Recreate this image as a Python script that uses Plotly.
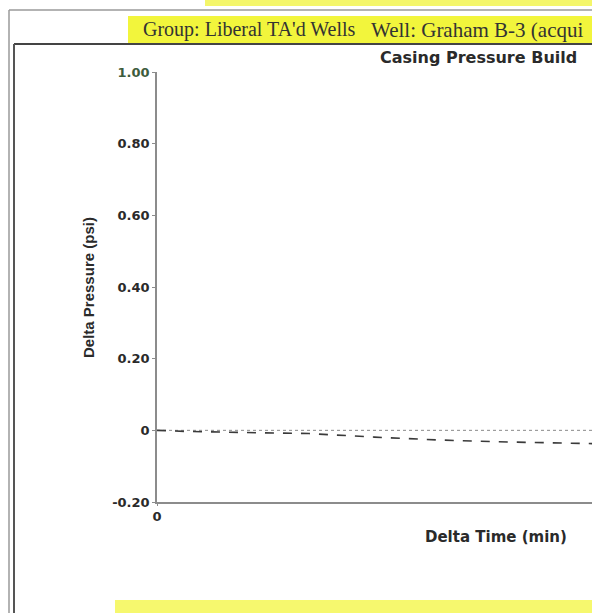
import plotly.graph_objects as go

# ---- data ----
delta_time_min = [0, 4, 12, 21, 30, 39, 47, 56, 60]
delta_pressure_psi = [0.0, -0.003, -0.006, -0.009, -0.019, -0.027, -0.032, -0.036, -0.037]
ref_time = [0, 60]
ref_pressure = [0.0, 0.0]

y_tickvals = [-0.2, 0.0, 0.2, 0.4, 0.6, 0.8, 1.0]
y_ticktext = ["-0.20", "0", "0.20", "0.40", "0.60", "0.80", "<span style='color:#3d5c3d'>1.00</span>"]
x_tickvals = [0]
x_ticktext = ["0"]

header_group = "Group: Liberal TA'd Wells"
header_well = "Well: Graham B-3 (acqui"
chart_title = "Casing Pressure Build"
x_title = "Delta Time (min)"
y_title = "Delta Pressure (psi)"

# ---- layout geometry ----
W, H = 592, 613
L, R, T, B = 157, 0, 72, 111
PW, PH = W - L - R, H - T - B

def px(x):
    return (x - L) / PW

def py(y):
    return (H - B - y) / PH

fig = go.Figure()

fig.add_trace(go.Scatter(
    x=ref_time, y=ref_pressure, mode="lines",
    line=dict(color="#8a8a8a", width=1, dash="dot"),
    showlegend=False, hoverinfo="skip"))

fig.add_trace(go.Scatter(
    x=delta_time_min, y=delta_pressure_psi, mode="lines",
    line=dict(color="#3a3a3a", width=1.6, dash="dash"),
    showlegend=False))

tick_font = dict(family="DejaVu Sans", size=13, color="#2a2a2a", weight="bold")

fig.update_layout(
    width=W, height=H,
    margin=dict(l=L, r=R, t=T, b=B),
    paper_bgcolor="white", plot_bgcolor="white",
    xaxis=dict(range=[0, 60], tickvals=x_tickvals, ticktext=x_ticktext,
               showgrid=False, zeroline=False, showline=True,
               linecolor="#8c8c8c", linewidth=1.5, ticks="outside",
               ticklen=2, tickcolor="#8c8c8c", tickfont=tick_font),
    yaxis=dict(range=[-0.2, 1.0], tickvals=y_tickvals, ticktext=y_ticktext,
               showgrid=False, zeroline=False, showline=True,
               linecolor="#8c8c8c", linewidth=1.5, ticks="outside",
               ticklen=3, tickcolor="#8c8c8c", tickfont=tick_font),
)

shapes = []
# yellow highlighter marks
shapes.append(dict(type="rect", xref="paper", yref="paper",
                   x0=px(128), x1=px(592), y0=py(44), y1=py(16),
                   fillcolor="#f2f53c", line=dict(width=0), layer="below"))
shapes.append(dict(type="rect", xref="paper", yref="paper",
                   x0=px(205), x1=px(592), y0=py(6), y1=py(0),
                   fillcolor="#f4f66a", line=dict(width=0), layer="below"))
shapes.append(dict(type="rect", xref="paper", yref="paper",
                   x0=px(115), x1=px(592), y0=py(613), y1=py(600),
                   fillcolor="#f6f86e", line=dict(width=0), layer="below"))
# frame lines
shapes.append(dict(type="line", xref="paper", yref="paper",
                   x0=px(9), x1=px(592), y0=py(10), y1=py(10),
                   line=dict(color="#9a9a9a", width=1.5)))
shapes.append(dict(type="line", xref="paper", yref="paper",
                   x0=px(9), x1=px(9), y0=py(10), y1=py(613),
                   line=dict(color="#9a9a9a", width=1.5)))
shapes.append(dict(type="line", xref="paper", yref="paper",
                   x0=px(14), x1=px(592), y0=py(44), y1=py(44),
                   line=dict(color="#444444", width=2)))
shapes.append(dict(type="line", xref="paper", yref="paper",
                   x0=px(14), x1=px(14), y0=py(44), y1=py(613),
                   line=dict(color="#555555", width=2)))
fig.update_layout(shapes=shapes)

ann = []
ann.append(dict(text=header_group, xref="paper", yref="paper",
                x=px(141), y=py(30), xanchor="left", yanchor="middle",
                showarrow=False,
                font=dict(family="Liberation Serif", size=20, color="#333333")))
ann.append(dict(text=header_well, xref="paper", yref="paper",
                x=px(369), y=py(30), xanchor="left", yanchor="middle",
                showarrow=False,
                font=dict(family="Liberation Serif", size=21, color="#333333")))
ann.append(dict(text=chart_title, xref="paper", yref="paper",
                x=px(378), y=py(58), xanchor="left", yanchor="middle",
                showarrow=False,
                font=dict(family="DejaVu Sans", size=16, color="#2a2a2a", weight="bold")))
ann.append(dict(text=x_title, xref="paper", yref="paper",
                x=px(496), y=py(537), xanchor="center", yanchor="middle",
                showarrow=False,
                font=dict(family="DejaVu Sans", size=15, color="#2a2a2a", weight="bold")))
ann.append(dict(text=y_title, xref="paper", yref="paper",
                x=px(88), y=py(288), xanchor="center", yanchor="middle",
                textangle=-90, showarrow=False,
                font=dict(family="Liberation Sans", size=15,
                          color="#2a2a2a", weight="bold")))
fig.update_layout(annotations=ann)

fig.write_html("out.html",
               config={"displayModeBar": False},
               post_script="document.body.style.margin='0';document.body.style.overflow='hidden';")
